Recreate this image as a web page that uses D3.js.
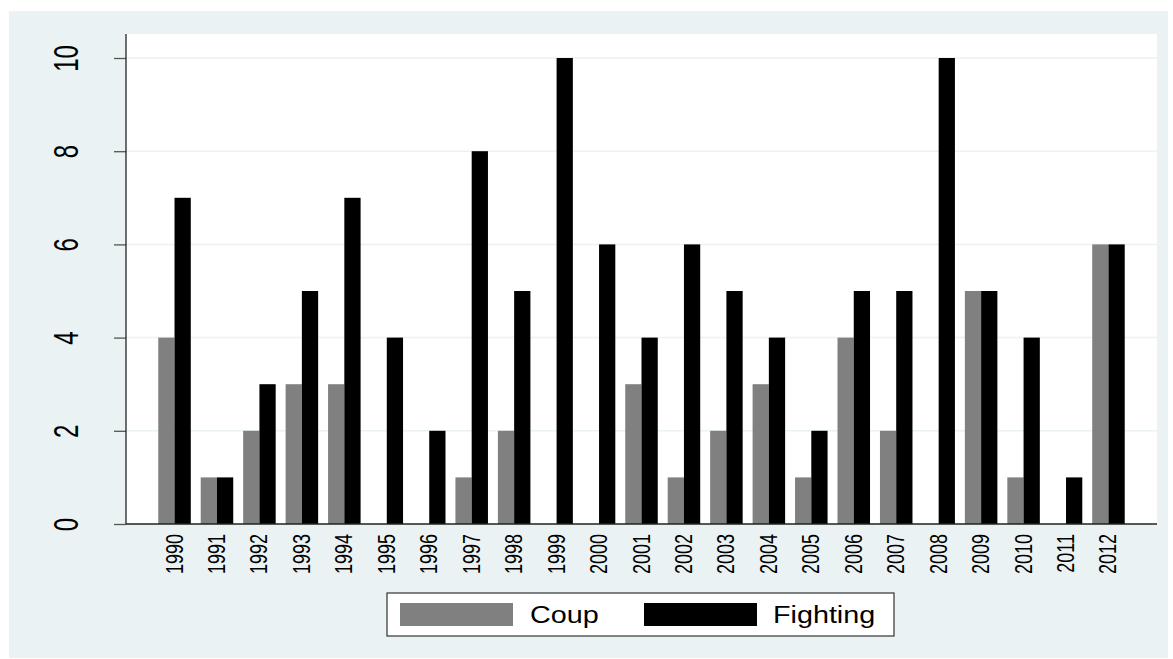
<!DOCTYPE html>
<html>
<head>
<meta charset="utf-8">
<script src="https://cdn.jsdelivr.net/npm/d3@7"></script>
<style>
html,body{margin:0;padding:0;background:#fff;}
svg{display:block;}
text{font-family:"Liberation Sans",Arial,Helvetica,sans-serif;}
</style>
</head>
<body>
<svg id="chart" width="1173" height="659"></svg>
<script>
const years = ["1990","1991","1992","1993","1994","1995","1996","1997","1998","1999","2000","2001","2002","2003","2004","2005","2006","2007","2008","2009","2010","2011","2012"];
const coup =     [4,1,2,3,3,0,0,1,2,0,0,3,1,2,3,1,4,2,0,5,1,0,6];
const fighting = [7,1,3,5,7,4,2,8,5,10,6,4,6,5,4,2,5,5,10,5,4,1,6];
const seriesNames = ["Coup","Fighting"];
const seriesColors = ["#808080","#000000"];
const yTicks = [0,2,4,6,8,10];

const svg = d3.select("#chart");
const plot = {left:126, right:1157, top:34, bottom:524};

// outer background
svg.append("rect").attr("x",9).attr("y",11).attr("width",1168-9).attr("height",658-11).attr("fill","#EAF2F3");
// plot region
svg.append("rect").attr("x",plot.left).attr("y",plot.top).attr("width",plot.right-plot.left).attr("height",plot.bottom-plot.top).attr("fill","#ffffff");

const x0 = d3.scaleBand().domain(years).range([plot.left, plot.right]).paddingInner(0.234).paddingOuter(0.76);
const x1 = d3.scaleBand().domain(seriesNames).range([0, x0.bandwidth()]).padding(0);
const y = d3.scaleLinear().domain([0,10]).range([plot.bottom, 58]);

// gridlines
svg.append("g").selectAll("line").data(yTicks.filter(d=>d>0)).join("line")
  .attr("x1",plot.left).attr("x2",plot.right)
  .attr("y1",d=>y(d)).attr("y2",d=>y(d))
  .attr("stroke","#EAF2F3").attr("stroke-width",1.5);

// bars
const data = years.map((yr,i)=>({year:yr, vals:[coup[i], fighting[i]]}));
const g = svg.append("g").selectAll("g").data(data).join("g")
  .attr("transform",d=>`translate(${x0(d.year)},0)`);
g.selectAll("rect").data(d=>d.vals.map((v,j)=>({key:seriesNames[j], v, c:seriesColors[j]})).filter(e=>e.v>0)).join("rect")
  .attr("x",e=>x1(e.key)).attr("width",x1.bandwidth())
  .attr("y",e=>y(e.v)).attr("height",e=>y(0)-y(e.v))
  .attr("fill",e=>e.c);

// y axis
const yAxis = d3.axisLeft(y).tickValues(yTicks).tickSize(12).tickFormat(d3.format("d"));
const ya = svg.append("g").attr("transform",`translate(${plot.left},0)`).call(yAxis);
ya.select(".domain").remove();
ya.selectAll(".tick line").attr("stroke","#555").attr("stroke-width",1.3);
ya.selectAll(".tick text").remove();
ya.selectAll(".tick").append("text")
  .attr("transform","translate(-48,0) scale(1.45,1) rotate(-90)")
  .attr("text-anchor","middle").attr("fill","#000")
  .attr("font-size",24).text(d=>d);
svg.append("line").attr("x1",plot.left).attr("x2",plot.left).attr("y1",plot.top).attr("y2",plot.bottom)
  .attr("stroke","#222").attr("stroke-width",1.3);

// x axis
const xAxis = d3.axisBottom(x0).tickSize(0);
const xa = svg.append("g").attr("transform",`translate(0,${plot.bottom})`).call(xAxis);
xa.select(".domain").remove();
xa.selectAll(".tick text").remove();
xa.selectAll(".tick").append("text")
  .attr("transform","translate(8,10) scale(1.35,1) rotate(-90)")
  .attr("text-anchor","end").attr("fill","#000")
  .attr("font-size",18).text(d=>d);
svg.append("line").attr("x1",plot.left).attr("x2",plot.right).attr("y1",plot.bottom).attr("y2",plot.bottom)
  .attr("stroke","#222").attr("stroke-width",1.3);

// legend
const lg = svg.append("g");
lg.append("rect").attr("x",387).attr("y",593).attr("width",894-387).attr("height",636-593)
  .attr("fill","#fff").attr("stroke","#333").attr("stroke-width",1.2);
const legItems = [{x:400, tx:532}, {x:644, tx:775}];
seriesNames.forEach((s,i)=>{
  lg.append("rect").attr("x",legItems[i].x).attr("y",603).attr("width",113).attr("height",23).attr("fill",seriesColors[i]);
  lg.append("text").attr("transform",`translate(${legItems[i].tx - 2},623) scale(1.25,1)`)
    .attr("font-size",23).attr("fill","#000").text(s);
});
</script>
</body>
</html>
